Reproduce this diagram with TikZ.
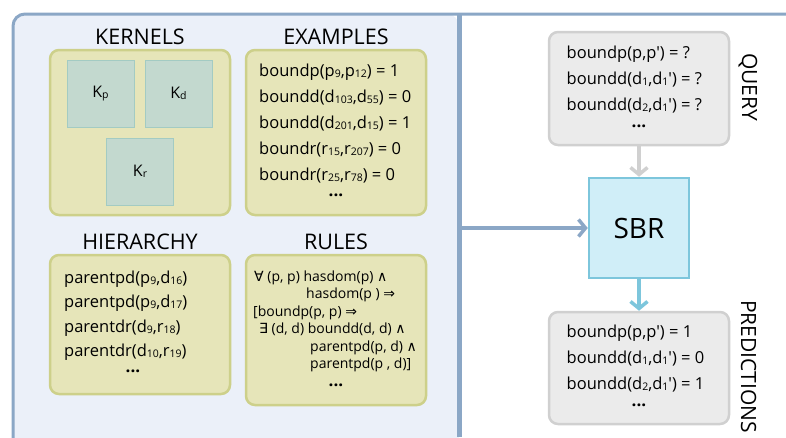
\documentclass[tikz,border=0pt]{standalone}
\usepackage{fontspec}
\setmainfont{Open Sans}[Ligatures=TeXOff]
\newfontfamily\symfont{DejaVu Sans}
\usetikzlibrary{arrows.meta}

\definecolor{panelfill}{HTML}{EBF0F9}
\definecolor{panelline}{HTML}{8BA7C6}
\definecolor{yfill}{HTML}{E6E5B9}
\definecolor{ybord}{HTML}{CDD08A}
\definecolor{kfill}{HTML}{C3D9CF}
\definecolor{kbord}{HTML}{A3CBC3}
\definecolor{gfill}{HTML}{EBEBEB}
\definecolor{gbord}{HTML}{D0D0D0}
\definecolor{sfill}{HTML}{D0EEF8}
\definecolor{sbord}{HTML}{7DC6DC}

% small lowered index
\newcommand\lo[1]{\raisebox{-1pt}{\fontsize{10.5}{10.5}\selectfont #1}}
\newcommand\sy[1]{{\symfont #1}}

\begin{document}
\begin{tikzpicture}[x=1pt,y=-1pt,
  ybox/.style={draw=ybord, fill=yfill, line width=2.5, rounded corners=9, inner sep=0},
  kbox/.style={draw=kbord, fill=kfill, line width=1, minimum size=67, inner sep=0,
               font=\fontsize{16}{16}\selectfont},
  gbox/.style={draw=gbord, fill=gfill, line width=2.5, rounded corners=9, inner sep=0,
               minimum width=180},
  sbrbox/.style={draw=sbord, fill=sfill, line width=2.5, minimum size=100, inner sep=0,
               font=\fontsize{28}{28}\selectfont},
  title/.style={font=\fontsize{21.5}{21.5}\selectfont, anchor=base, inner sep=0},
  txt/.style={font=\fontsize{16.5}{16.5}\selectfont, anchor=base west, inner sep=0},
  rtxt/.style={font=\fontsize{14}{14}\selectfont, anchor=base west, inner sep=0},
  dotsn/.style={font=\fontsize{17}{17}\selectfont\bfseries, inner sep=0},
  side/.style={font=\fontsize{21}{21}\selectfont, rotate=-90, anchor=base west, inner sep=0},
  tip/.style={-{Straight Barb[length=7, width=17]}},
]
\useasboundingbox (0,0) rectangle (786,437);

% knowledge panel and frame
\begin{scope}
  \clip (0,0) rectangle (786,437);
  \fill[panelfill, rounded corners=12] (13,14) rectangle (459,470);
  \draw[panelline, line width=3, rounded corners=12] (13,14) rectangle (830,470);
\end{scope}
\draw[panelline, line width=5] (459.5,14) -- (459.5,437);

% titles
\node[title] (tk) at (140,44.5) {KERNELS};
\node[title] (te) at (336,44.5) {EXAMPLES};
\node[title] (th) at (140,249.5) {HIERARCHY};
\node[title] (tr) at (336,249.5) {RULES};

% kernels
\node[ybox, minimum width=180, minimum height=165] (kern) at (140,132.5) {};
\node[kbox] (kp) at (100.5,93.5) {K\lo{p}};
\node[kbox] (kd) at (178.5,93.5) {K\lo{d}};
\node[kbox] (kr) at (140,171.5) {K\lo{r}};

% examples
\node[ybox, minimum width=180, minimum height=165] (exam) at (336,132.5) {};
\node[txt] (e1) at (259,76.5) {boundp(p\lo{9},p\lo{12}) = 1};
\node[txt] (e2) at (259,102.5) {boundd(d\lo{103},d\lo{55}) = 0};
\node[txt] (e3) at (259,128.5) {boundd(d\lo{201},d\lo{15}) = 1};
\node[txt] (e4) at (259,154.5) {boundr(r\lo{15},r\lo{207}) = 0};
\node[txt] (e5) at (259,180.5) {boundr(r\lo{25},r\lo{78}) = 0};
\node[dotsn] (e6) at (336,195) {...};

% hierarchy
\node[ybox, minimum width=180, minimum height=139] (hier) at (140,324.5) {};
\node[txt] (h1) at (64,283) {parentpd(p\lo{9},d\lo{16})};
\node[txt] (h2) at (64,307.5) {parentpd(p\lo{9},d\lo{17})};
\node[txt] (h3) at (64,332) {parentdr(d\lo{9},r\lo{18})};
\node[txt] (h4) at (64,356.5) {parentdr(d\lo{10},r\lo{19})};
\node[dotsn] (h5) at (133,371) {...};

% rules
\node[ybox, minimum width=180, minimum height=150] (rule) at (336,330) {};
\node[rtxt] (r1) at (254,281) {\sy{∀} (p, p) hasdom(p) \sy{∧}};
\node[rtxt] (r2) at (306,298.5) {hasdom(p ) \sy{⇒}};
\node[rtxt] (r3) at (253,316) {[boundp(p, p) \sy{⇒}};
\node[rtxt] (r4) at (259,333.5) {\sy{∃} (d, d) boundd(d, d) \sy{∧}};
\node[rtxt] (r5) at (310,351) {parentpd(p, d) \sy{∧}};
\node[rtxt] (r6) at (310,368.5) {parentpd(p , d)]};
\node[dotsn] (r7) at (336,385) {...};

% query
\node[gbox, minimum height=113] (query) at (639,88.5) {};
\node[txt] (q1) at (566.5,58) {boundp(p,p') = ?};
\node[txt] (q2) at (566.5,84) {boundd(d\lo{1},d\lo{1}') = ?};
\node[txt] (q3) at (566.5,110) {boundd(d\lo{2},d\lo{1}') = ?};
\node[dotsn] (q4) at (639,126) {...};
\node[side] (ql) at (742,53) {QUERY};

% reasoner
\node[sbrbox] (sbr) at (639,228) {SBR};

% predictions
\node[gbox, minimum height=112] (pred) at (639,368) {};
\node[txt] (p1) at (566.5,337) {boundp(p,p') = 1};
\node[txt] (p2) at (566.5,363) {boundd(d\lo{1},d\lo{1}') = 0};
\node[txt] (p3) at (566.5,389.5) {boundd(d\lo{2},d\lo{1}') = 1};
\node[dotsn] (p4) at (639,405.5) {...};
\node[side] (pl) at (741,300) {PREDICTIONS};

% connectors
\coordinate (kb) at (462,228);
\draw[panelline, line width=3.5, tip] (kb) -- (sbr.west);
\draw[gbord, line width=3.5, tip] (query.south) -- (sbr.north);
\draw[sbord, line width=3.5, tip] (sbr.south) -- (pred.north);
\end{tikzpicture}
\end{document}
